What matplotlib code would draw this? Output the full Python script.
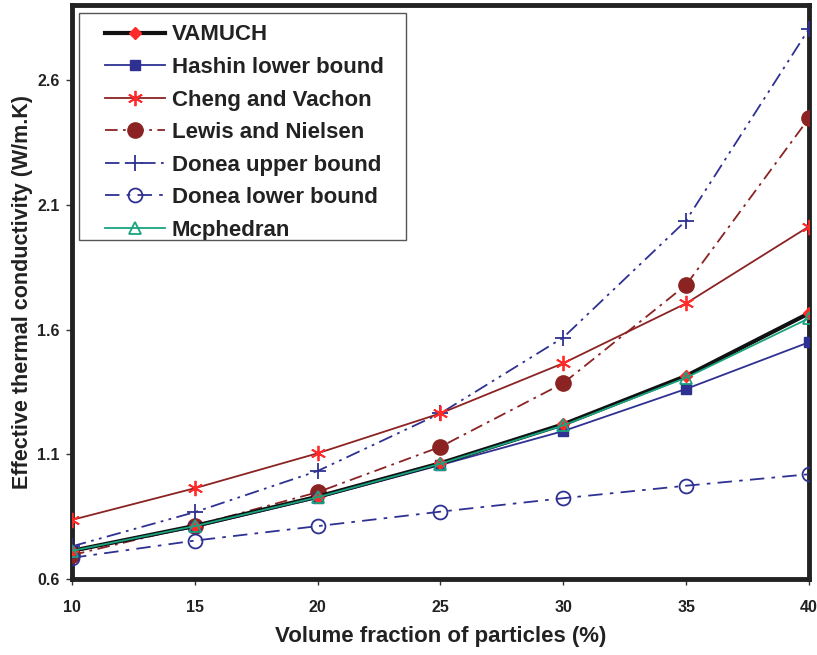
import matplotlib
matplotlib.use('Agg')
import matplotlib.pyplot as plt
from matplotlib.patches import Rectangle

plt.rcParams['font.family'] = ['Liberation Sans', 'DejaVu Sans']
plt.rcParams['font.weight'] = 'bold'

# data
fraction = [10, 15, 20, 25, 30, 35, 40]
vamuch = [0.713, 0.813, 0.930, 1.064, 1.220, 1.414, 1.665]
hashin = [0.711, 0.808, 0.925, 1.057, 1.193, 1.362, 1.549]
cheng = [0.837, 0.964, 1.104, 1.264, 1.465, 1.705, 2.013]
lewis = [0.696, 0.814, 0.948, 1.130, 1.385, 1.779, 2.447]
donea_up = [0.731, 0.868, 1.033, 1.264, 1.568, 2.037, 2.805]
donea_low = [0.685, 0.754, 0.812, 0.870, 0.924, 0.974, 1.020]
mcphedran = [0.713, 0.812, 0.928, 1.062, 1.216, 1.407, 1.645]

blue = '#2e3192'
darkred = '#8b2323'
red = '#ff2a2a'
teal = '#1aa37f'

fig = plt.figure(figsize=(8.17, 6.55), dpi=100)
ax = fig.add_axes([0.0881, 0.116, 0.902, 0.876])

ax.plot(fraction, vamuch, color='#111111', lw=3, marker='D', ms=6,
        mfc=red, mec=red, label='VAMUCH', zorder=5)
ax.plot(fraction, hashin, color=blue, lw=1.3, marker='s', ms=7,
        mfc=blue, mec=blue, label='Hashin lower bound', zorder=4)
ax.plot(fraction, cheng, color=darkred, lw=1.3, marker=(6, 2, 0), ms=11,
        mec=red, mew=1.3, label='Cheng and Vachon', zorder=4)
ax.plot(fraction, lewis, color=darkred, lw=1.3, dashes=(7, 3, 1.5, 3),
        marker='o', ms=11, mfc=darkred, mec=darkred,
        label='Lewis and Nielsen', zorder=3)
ax.plot(fraction, donea_up, color=blue, lw=1.3,
        dashes=(8, 3, 1.5, 3, 1.5, 3), marker='+', ms=11, mew=1.3,
        label='Donea upper bound', zorder=3)
ax.plot(fraction, donea_low, color=blue, lw=1.3, dashes=(8, 4, 2, 4),
        marker='o', ms=10, mfc='none', mec=blue, mew=1.3,
        label='Donea lower bound', zorder=3)
ax.plot(fraction, mcphedran, color=teal, lw=1.3, marker='^', ms=8,
        mfc='none', mec=teal, mew=1.3, label='Mcphedran', zorder=6)

ax.set_xlim(10, 40)
ax.set_ylim(0.6, 2.9)
ax.set_xticks(fraction)
ax.set_yticks([0.6, 1.1, 1.6, 2.1, 2.6])
ax.set_yticklabels(['0.6', '1.1', '1.6', '2.1', '2.6'])
ax.tick_params(axis='both', labelsize=11.5, length=4, width=1, color='#333333')
ax.tick_params(axis='x', pad=11)
ax.tick_params(axis='y', pad=5)
for lab in ax.get_xticklabels() + ax.get_yticklabels():
    lab.set_fontweight('bold')
    lab.set_color('#222222')

for sp in ax.spines.values():
    sp.set_linewidth(3.5)
    sp.set_color('#222222')

ax.set_xlabel('Volume fraction of particles (%)', fontsize=16,
              fontweight='bold', color='#222222', labelpad=8)
ax.set_ylabel('Effective thermal conductivity (W/m.K)', fontsize=15.5,
              fontweight='bold', color='#222222', labelpad=3)

# legend without its own frame, a wider box drawn behind it
leg = ax.legend(loc='upper left', fontsize=16, handlelength=2.7,
                frameon=False, borderpad=0.45, labelspacing=0.52,
                handletextpad=0.3, borderaxespad=0,
                bbox_to_anchor=(0.0312, 0.984))
for t in leg.get_texts():
    t.set_fontweight('bold')
    t.set_color('#222222')

box = Rectangle((79 / 817, 1 - 240 / 655), 327 / 817, 227 / 655,
                transform=fig.transFigure, facecolor='none',
                edgecolor='#555555', linewidth=1.0, zorder=10)
fig.patches.append(box)

fig.savefig('out.png', dpi=100)
